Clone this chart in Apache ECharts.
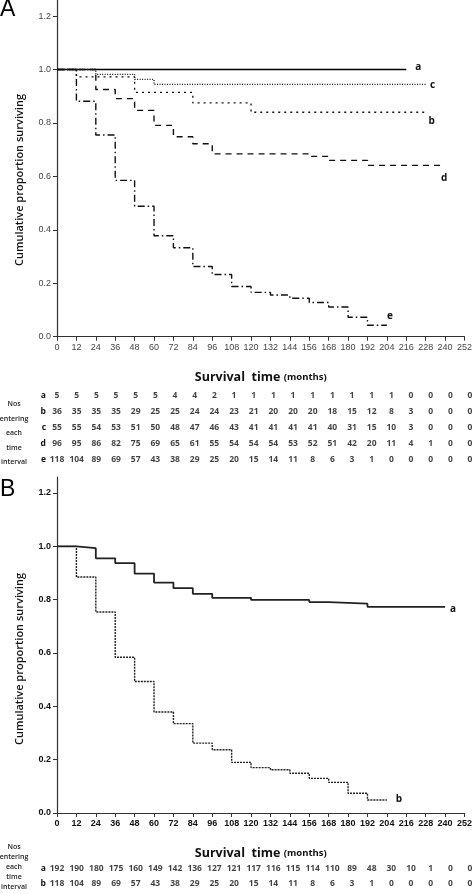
<!DOCTYPE html>
<html>
<head>
<meta charset="utf-8">
<script src="https://cdn.jsdelivr.net/npm/echarts@6/dist/echarts.min.js"></script>
<style>
html,body{margin:0;padding:0;background:#fff;}
#chart{width:475px;height:894px;}
</style>
</head>
<body>
<div id="chart"></div>
<script>
// ---------- data ----------
const yTicks = [0, 0.2, 0.4, 0.6, 0.8, 1.0, 1.2];
const intervalStarts = [0,12,24,36,48,60,72,84,96,108,120,132,144,156,168,180,192,204,216,228,240,252];

// Panel A survival curves (time, cumulative proportion surviving)
const aTimes = [0, 216];
const aSurv  = [1, 1];
const bTimes = [0, 12, 48, 84, 120, 228];
const bSurv  = [1, 0.972, 0.914, 0.875, 0.84, 0.84];
const cTimes = [0, 24, 48, 60, 228];
const cSurv  = [1, 0.982, 0.963, 0.944, 0.944];
const dTimes = [0, 24, 36, 48, 60, 72, 84, 96, 156, 168, 192, 240];
const dSurv  = [1, 0.925, 0.891, 0.847, 0.791, 0.748, 0.722, 0.684, 0.675, 0.66, 0.641, 0.641];
const eTimes = [0,12,24,36,48,60,72,84,96,108,120,132,144,156,168,180,192,204];
const eSurv  = [1,0.881,0.755,0.585,0.488,0.378,0.333,0.2625,0.233,0.188,0.166,0.156,0.144,0.128,0.111,0.073,0.043,0.043];

// Panel B survival curves
const BaTimes = [0,12,24,36,48,60,72,84,96,120,156,168,192,240];
const BaSurv  = [1,0.993,0.955,0.937,0.898,0.864,0.843,0.822,0.807,0.799,0.791,0.785,0.773,0.773];
const BbTimes = [0,12,24,36,48,60,72,84,96,108,120,132,144,156,168,180,192,204];
const BbSurv  = [1,0.885,0.754,0.584,0.493,0.379,0.335,0.262,0.237,0.19,0.17,0.162,0.149,0.13,0.115,0.074,0.049,0.049];

// Numbers entering each time interval
const tableARows = ['a','b','c','d','e'];
const riskAa = [5,5,5,5,5,5,4,4,2,1,1,1,1,1,1,1,1,1,0,0,0,0];
const riskAb = [36,35,35,35,29,25,25,24,24,23,21,20,20,20,18,15,12,8,3,0,0,0];
const riskAc = [55,55,54,53,51,50,48,47,46,43,41,41,41,41,40,31,15,10,3,0,0,0];
const riskAd = [96,95,86,82,75,69,65,61,55,54,54,54,53,52,51,42,20,11,4,1,0,0];
const riskAe = [118,104,89,69,57,43,38,29,25,20,15,14,11,8,6,3,1,0,0,0,0,0];
const tableBRows = ['a','b'];
const riskBa = [192,190,180,175,160,149,142,136,127,121,117,116,115,114,110,89,48,30,10,1,0,0];
const riskBb = [118,104,89,69,57,43,38,29,25,20,15,14,11,8,6,3,1,0,0,0,0,0];

const leftLabelLines = ['Nos','entering','each','time','interval'];

// ---------- helpers ----------
const narrow = "'Liberation Sans Narrow', 'Liberation Sans', Arial, sans-serif";
const sans = "'Open Sans', 'DejaVu Sans', sans-serif";

function pairs(t, s){ return t.map((x,i)=>[x, s[i]]); }

function curve(name, t, s, gridIdx, dash, width, color, lbl){
  return {
    type:'line', name:name, xAxisIndex:gridIdx, yAxisIndex:gridIdx,
    data: pairs(t,s), step:'end', symbol:'none', silent:true, animation:false,
    lineStyle:{color:color, width:width, type:dash},
    endLabel:{show:true, formatter:lbl.text, distance:0, align:'center', verticalAlign:'middle',
      offset:[lbl.dx, lbl.dy], fontFamily:sans, fontWeight:'bold', fontSize:10, color:'#111'}
  };
}

function tableSeries(rows, arrays, gridIdx){
  const data = [];
  arrays.forEach((arr, r)=>{
    arr.forEach((v,i)=>{ data.push([intervalStarts[i], rows[r], v]); });
  });
  return {
    type:'scatter', xAxisIndex:gridIdx, yAxisIndex:gridIdx, data:data,
    symbolSize:1, itemStyle:{color:'transparent'}, silent:true, animation:false,
    label:{show:true, position:'inside', formatter:p=>String(p.value[2]),
      fontFamily:sans, fontWeight:'bold', fontSize:8.5, color:'#111'}
  };
}

function plotX(gridIdx, bold){
  return {
    gridIndex:gridIdx, type:'value', min:0, max:252, interval:12,
    axisLine:{show:true, lineStyle:{color:'#333', width:1.2}},
    axisTick:{show:true, length:4, lineStyle:{color:'#333'}},
    axisLabel:{fontFamily:narrow, fontSize:9, color: bold ? '#111' : '#444', fontWeight: bold ? 'bold':'normal', margin:6, showMaxLabel:true},
    splitLine:{show:false},
    name:'{s|Survival  time} {m|(months)}', nameLocation:'middle', nameGap:34,
    nameTextStyle:{rich:{
      s:{fontFamily:sans, fontWeight:'bold', fontSize:12.5, color:'#111'},
      m:{fontFamily:sans, fontWeight:'bold', fontSize:9.5, color:'#111'}
    }}
  };
}
function plotY(gridIdx, bold){
  return {
    gridIndex:gridIdx, type:'value', min:0, max:1.26,
    axisLine:{show:true, lineStyle:{color:'#333', width:1.2}},
    axisTick:{show:true, length:4, customValues:yTicks, lineStyle:{color:'#333'}},
    axisLabel:{customValues:yTicks, formatter:v=>v.toFixed(1), fontFamily:narrow, fontSize:9,
      color: bold ? '#111' : '#444', fontWeight: bold ? 'bold':'normal', margin:6},
    splitLine:{show:false}
  };
}
function tableX(gridIdx){
  return {gridIndex:gridIdx, type:'value', min:0, max:252, show:false};
}
function tableY(gridIdx, rows){
  return {gridIndex:gridIdx, type:'category', data:rows, inverse:true,
    axisLine:{show:false}, axisTick:{show:false}, splitLine:{show:false},
    axisLabel:{fontFamily:sans, fontWeight:'bold', fontSize:8.5, color:'#111', margin:11}};
}

function sideLabels(x, y0, step){
  return leftLabelLines.map((t,i)=>({
    type:'text', x:x, y:y0 + i*step,
    style:{text:t, fontFamily:sans, fontSize:7, fontWeight:600, fill:'#222', align:'center', verticalAlign:'middle'}
  }));
}

const chart = echarts.init(document.getElementById('chart'), null, {renderer:'canvas'});

const option = {
  animation:false,
  backgroundColor:'#fff',
  grid:[
    {left:57, right:5, top:0, height:336.7},
    {left:57, right:5, top:388, height:79},
    {left:57, right:5, top:477, height:336},
    {left:57, right:5, top:861.5, height:30}
  ],
  xAxis:[plotX(0,false), tableX(1), plotX(2,true), tableX(3)],
  yAxis:[plotY(0,false), tableY(1,tableARows), plotY(2,true), tableY(3,tableBRows)],
  series:[
    curve('a', aTimes, aSurv, 0, 'solid', 1.6, '#000', {text:'a', dx:12, dy:-2}),
    curve('c', cTimes, cSurv, 0, [1,1.5], 1.3, '#111', {text:'c', dx:7, dy:1}),
    curve('b', bTimes, bSurv, 0, [2,4], 1.3, '#111', {text:'b', dx:6, dy:9}),
    curve('d', dTimes, dSurv, 0, [6,5], 1.4, '#111', {text:'d', dx:-1, dy:13}),
    curve('e', eTimes, eSurv, 0, [7,3,1.5,3], 1.4, '#111', {text:'e', dx:3, dy:-9}),
    tableSeries(tableARows, [riskAa, riskAb, riskAc, riskAd, riskAe], 1),
    curve('Ba', BaTimes, BaSurv, 2, 'solid', 1.8, '#222', {text:'a', dx:8, dy:2}),
    curve('Bb', BbTimes, BbSurv, 2, [2,1], 1.4, '#222', {text:'b', dx:12, dy:-1}),
    tableSeries(tableBRows, [riskBa, riskBb], 3)
  ],
  graphic:[
    {type:'text', x:0, y:10, style:{text:'A', fontFamily:"'Liberation Sans', Arial, sans-serif", fontSize:23, fill:'#000', align:'left', verticalAlign:'middle'}},
    {type:'text', x:0, y:490, style:{text:'B', fontFamily:"'Liberation Sans', Arial, sans-serif", fontSize:23, fill:'#000', align:'left', verticalAlign:'middle'}},
    {type:'text', x:20, y:180, rotation:Math.PI/2, style:{text:'Cumulative proportion surviving', fontFamily:sans, fontWeight:600, fontSize:11, fill:'#111', align:'center', verticalAlign:'middle'}},
    {type:'text', x:20, y:659, rotation:Math.PI/2, style:{text:'Cumulative proportion surviving', fontFamily:sans, fontWeight:600, fontSize:11, fill:'#111', align:'center', verticalAlign:'middle'}}
  ].concat(sideLabels(14, 404, 14.5)).concat(sideLabels(14, 847, 10))
};
chart.setOption(option);
</script>
</body>
</html>
